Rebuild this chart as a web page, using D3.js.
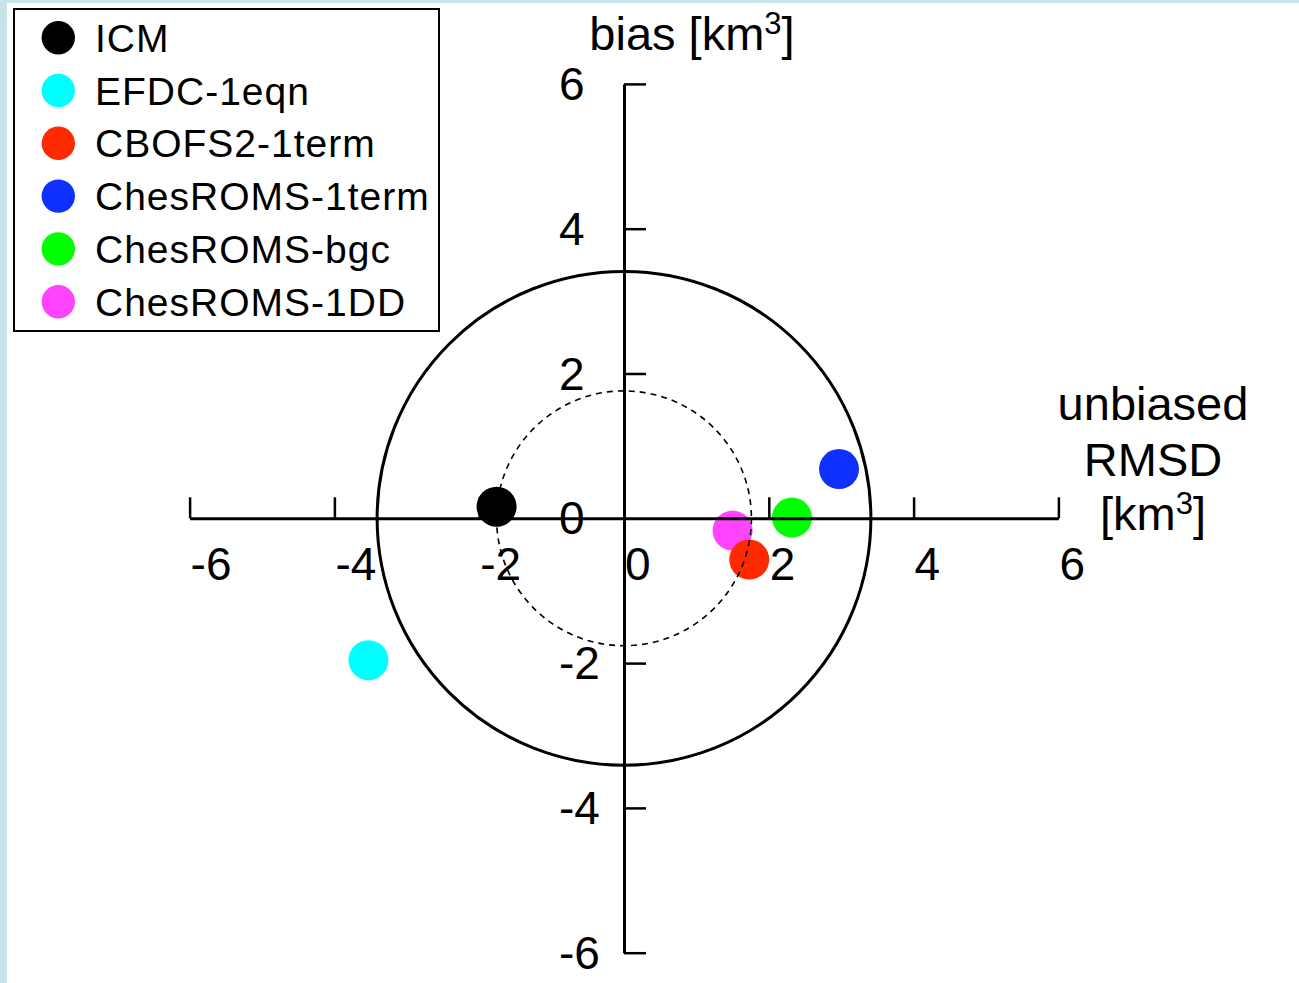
<!DOCTYPE html>
<html>
<head>
<meta charset="utf-8">
<script src="https://cdn.jsdelivr.net/npm/d3@7"></script>
<style>
  html, body { margin: 0; padding: 0; background: #ffffff; }
  svg { display: block; }
  text { font-family: "Liberation Sans", Arial, Helvetica, sans-serif; fill: #000; }
</style>
</head>
<body>
<svg id="chart" width="1299" height="983"></svg>
<script>
// ---- data ----
const models = ["ICM", "EFDC-1eqn", "CBOFS2-1term", "ChesROMS-1term", "ChesROMS-bgc", "ChesROMS-1DD"];
const unbiasedRMSD = [-1.76, -3.53, 1.73, 2.97, 2.32, 1.50];
const bias = [0.16, -1.96, -0.57, 0.68, 0.01, -0.17];
const colors = ["#000000", "#00ffff", "#ff2a00", "#0f30ff", "#00ff00", "#ff44ff"];
const xTicks = [-6, -4, -2, 2, 4, 6];
const xTickLabels = ["-6", "-4", "-2", "0", "2", "4", "6"];
const xTickLabelValues = [-6, -4, -2, 0, 2, 4, 6];
const yTicks = [6, 4, 2, -2, -4, -6];
const yTickLabels = ["6", "4", "2", "0", "-2", "-4", "-6"];
const yTickLabelValues = [6, 4, 2, 0, -2, -4, -6];
const refCircles = [3.41, 1.76];

// ---- layout ----
const svg = d3.select("#chart");
const W = 1299, H = 983;
const cx = 624, cy = 518.3, unit = 72.4;

svg.append("rect").attr("width", W).attr("height", H).attr("fill", "#ffffff");
// light cyan border strips
svg.append("rect").attr("x", 0).attr("y", 0).attr("width", 7).attr("height", H).attr("fill", "#c6e4e9");
svg.append("rect").attr("x", 0).attr("y", 0).attr("width", W).attr("height", 3).attr("fill", "#c6e4e9");

const x = d3.scaleLinear().domain([-6, 6]).range([cx - 6 * unit, cx + 6 * unit]);
const y = d3.scaleLinear().domain([-6, 6]).range([cy + 6 * unit, cy - 6 * unit]);

// ---- points (reverse order so earlier series sit on top) ----
const idx = d3.range(models.length).reverse();
svg.append("g").selectAll("circle").data(idx).join("circle")
  .attr("cx", i => x(unbiasedRMSD[i]))
  .attr("cy", i => y(bias[i]))
  .attr("r", 20)
  .attr("fill", i => colors[i]);

// ---- reference circles ----
svg.append("circle")
  .attr("cx", x(0)).attr("cy", y(0))
  .attr("r", x(refCircles[0]) - x(0))
  .attr("fill", "none").attr("stroke", "#000").attr("stroke-width", 3);
svg.append("circle")
  .attr("cx", x(0)).attr("cy", y(0))
  .attr("r", x(refCircles[1]) - x(0))
  .attr("fill", "none").attr("stroke", "#000").attr("stroke-width", 1.6)
  .attr("stroke-dasharray", "6,5");

// ---- x axis (ticks pointing up) ----
const xAxis = d3.axisTop(x).tickValues(xTicks).tickSize(21).tickSizeOuter(0).tickFormat("");
const gx = svg.append("g").attr("transform", `translate(0,${y(0)})`).call(xAxis);
gx.select(".domain").attr("stroke", "#000").attr("stroke-width", 3);
gx.selectAll(".tick line").attr("stroke", "#000").attr("stroke-width", 2.5);

svg.append("g").selectAll("text").data(xTickLabelValues).join("text")
  .attr("x", d => x(d) + 1)
  .attr("y", y(0) + 62)
  .attr("text-anchor", "start")
  .attr("font-size", 46)
  .text((d, i) => xTickLabels[i]);

// ---- y axis (ticks pointing right) ----
const yAxis = d3.axisRight(y).tickValues(yTicks).tickSize(22).tickSizeOuter(0).tickFormat("");
const gy = svg.append("g").attr("transform", `translate(${x(0)},0)`).call(yAxis);
gy.select(".domain").attr("stroke", "#000").attr("stroke-width", 3);
gy.selectAll(".tick line").attr("stroke", "#000").attr("stroke-width", 2.5);

svg.append("g").selectAll("text").data(yTickLabelValues).join("text")
  .attr("x", 559)
  .attr("y", d => y(d) + 16)
  .attr("text-anchor", "start")
  .attr("font-size", 46)
  .text((d, i) => yTickLabels[i]);

// ---- axis titles ----
const t1 = svg.append("text").attr("x", 692).attr("y", 50).attr("text-anchor", "middle").attr("font-size", 47);
t1.append("tspan").text("bias [km");
t1.append("tspan").attr("font-size", 31).attr("dy", -16).text("3");
t1.append("tspan").attr("dy", 16).text("]");

const tx = 1153;
svg.append("text").attr("x", tx).attr("y", 420).attr("text-anchor", "middle").attr("font-size", 47).text("unbiased");
svg.append("text").attr("x", tx).attr("y", 476).attr("text-anchor", "middle").attr("font-size", 47).text("RMSD");
const t3 = svg.append("text").attr("x", tx).attr("y", 530).attr("text-anchor", "middle").attr("font-size", 47);
t3.append("tspan").text("[km");
t3.append("tspan").attr("font-size", 31).attr("dy", -16).text("3");
t3.append("tspan").attr("dy", 16).text("]");

// ---- legend ----
const lg = svg.append("g");
lg.append("rect").attr("x", 14).attr("y", 9).attr("width", 425).attr("height", 322)
  .attr("fill", "#fff").attr("stroke", "#000").attr("stroke-width", 2);
const ly = d3.scaleLinear().domain([0, models.length - 1]).range([37.7, 301.7]);
const items = lg.selectAll("g.item").data(models).join("g").attr("class", "item")
  .attr("transform", (d, i) => `translate(0,${ly(i)})`);
items.append("circle").attr("cx", 58.3).attr("cy", 0).attr("r", 16.7).attr("fill", (d, i) => colors[i]);
items.append("text").attr("x", 95).attr("y", 14).attr("font-size", 39)
  .attr("letter-spacing", 1).text(d => d);
</script>
</body>
</html>
